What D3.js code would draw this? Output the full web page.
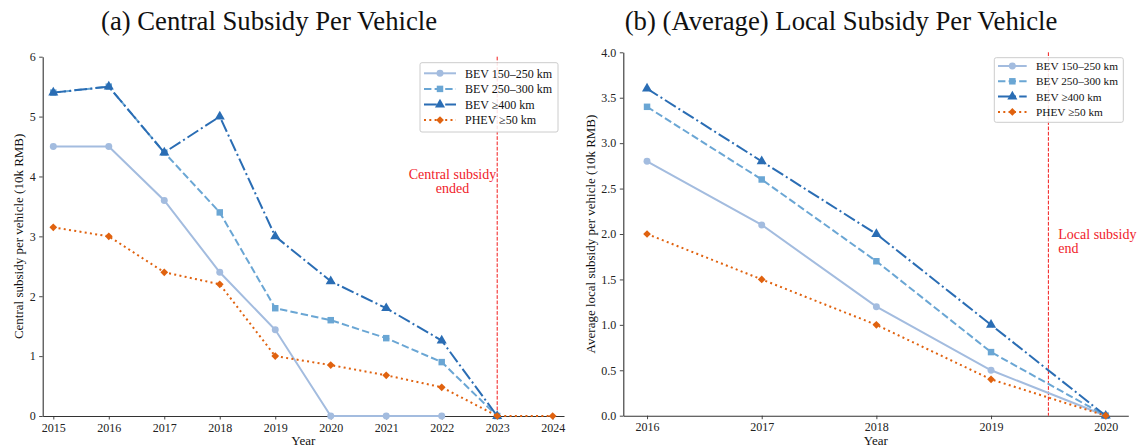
<!DOCTYPE html>
<html>
<head>
<meta charset="utf-8">
<script src="https://cdn.jsdelivr.net/npm/d3@7"></script>
<style>
  html, body { margin: 0; padding: 0; background: #fff; }
  svg { display: block; font-family: "Liberation Serif", "DejaVu Serif", serif; }
</style>
</head>
<body>
<svg id="chart" width="1139" height="448"></svg>
<script>
// ---- Data (10k RMB per vehicle) ----
const centralYears = [2015, 2016, 2017, 2018, 2019, 2020, 2021, 2022, 2023, 2024];
const centralBev150 = [4.5, 4.5, 3.6, 2.4, 1.44, 0, 0, 0, null, null];
const centralBev250 = [5.4, 5.5, 4.4, 3.4, 1.8, 1.6, 1.3, 0.9, 0, null];
const centralBev400 = [5.4, 5.5, 4.4, 5.0, 3.0, 2.25, 1.8, 1.26, 0, null];
const centralPhev   = [3.15, 3.0, 2.4, 2.2, 1.0, 0.85, 0.68, 0.48, 0, 0];

const localYears = [2016, 2017, 2018, 2019, 2020];
const localBev150 = [2.8, 2.1, 1.2, 0.5, 0];
const localBev250 = [3.4, 2.6, 1.7, 0.7, 0];
const localBev400 = [3.6, 2.8, 2.0, 1.0, 0];
const localPhev   = [2.0, 1.5, 1.0, 0.4, 0];

const seriesNames = ["BEV 150\u2013250 km", "BEV 250\u2013300 km", "BEV \u2265400 km", "PHEV \u226550 km"];
const centralTicksY = [0, 1, 2, 3, 4, 5, 6];
const localTicksY = [0, 0.5, 1.0, 1.5, 2.0, 2.5, 3.0, 3.5, 4.0];
const centralEndYear = 2023;
const localEndYear = 2019.5;

// ---- Series styling ----
const styles = [
  { color: "#a3bcdf", dash: null,               marker: "circle" },
  { color: "#6aa6d4", dash: "7.4,3.2",          marker: "square" },
  { color: "#2a6db4", dash: "12.8,3.2,2,3.2",   marker: "triangle" },
  { color: "#e0620f", dash: "2,3.3",            marker: "diamond" }
];
const markerSym = {
  circle: { path: d3.symbol().type(d3.symbolCircle).size(38)(), rot: 0 },
  square: { path: d3.symbol().type(d3.symbolSquare).size(42)(), rot: 0 },
  triangle: { path: d3.symbol().type(d3.symbolTriangle).size(44)(), rot: 0 },
  // a square turned 45 degrees
  diamond: { path: d3.symbol().type(d3.symbolSquare).size(30)(), rot: 45 }
};

const svg = d3.select("#chart");
const FONT = '"Liberation Serif", "DejaVu Serif", serif';

function drawPanel(cfg) {
  const x = d3.scaleLinear().domain(cfg.xDomain).range(cfg.xRange);
  const y = d3.scaleLinear().domain(cfg.yDomain).range(cfg.yRange);
  const g = svg.append("g");

  // axes
  const xAxis = d3.axisBottom(x).tickValues(cfg.years).tickFormat(d3.format("d"))
    .tickSize(3.5).tickPadding(3.5).tickSizeOuter(0);
  const yAxis = d3.axisLeft(y).tickValues(cfg.yTicks).tickFormat(cfg.yFormat)
    .tickSize(3.5).tickPadding(3.5).tickSizeOuter(0);

  const gx = g.append("g").attr("transform", `translate(0,${cfg.yRange[0]})`).call(xAxis);
  const gy = g.append("g").attr("transform", `translate(${cfg.xRange[0]},0)`).call(yAxis);
  [gx, gy].forEach(a => {
    a.selectAll("text").attr("font-family", FONT).attr("font-size", cfg.tickFont).attr("fill", "#222");
    a.selectAll("line").attr("stroke", "#333").attr("stroke-width", 0.9);
    a.select(".domain").attr("stroke", "#333").attr("stroke-width", 1.1);
  });

  // end-of-subsidy marker line
  g.append("line")
    .attr("x1", x(cfg.endYear)).attr("x2", x(cfg.endYear))
    .attr("y1", cfg.yRange[1]).attr("y2", cfg.yRange[0])
    .attr("stroke", "#f21b1b").attr("stroke-width", 1).attr("stroke-dasharray", "3.7,1.6");

  const note = g.append("text")
    .attr("font-family", FONT).attr("font-size", 14).attr("fill", "#f0222a")
    .attr("text-anchor", cfg.noteAnchor);
  cfg.noteLines.forEach((t, i) => {
    note.append("tspan").attr("x", cfg.noteX).attr("y", cfg.noteY + i * 14.3).text(t);
  });

  // series
  cfg.series.forEach((vals, si) => {
    const st = styles[si];
    const m = markerSym[st.marker];
    const pts = cfg.years.map((yr, i) => ({ yr, v: vals[i] })).filter(p => p.v !== null);
    const line = d3.line().x(p => x(p.yr)).y(p => y(p.v));
    g.append("path").datum(pts)
      .attr("d", line).attr("fill", "none")
      .attr("stroke", st.color).attr("stroke-width", 2)
      .attr("stroke-dasharray", st.dash);
    g.selectAll(null).data(pts).enter().append("path")
      .attr("d", m.path)
      .attr("transform", p => `translate(${x(p.yr)},${y(p.v)}) rotate(${m.rot})`)
      .attr("fill", st.color);
  });

  // axis titles
  g.append("text")
    .attr("x", (cfg.xRange[0] + cfg.xRange[1]) / 2).attr("y", 445)
    .attr("text-anchor", "middle").attr("font-family", FONT).attr("font-size", 13)
    .attr("fill", "#111").text("Year");
  g.append("text")
    .attr("transform", `translate(${cfg.yLabelX},${(cfg.yRange[0] + cfg.yRange[1]) / 2}) rotate(-90)`)
    .attr("text-anchor", "middle").attr("font-family", FONT).attr("font-size", 13)
    .attr("fill", "#111").text(cfg.yLabel);

  // title
  g.append("text")
    .attr("x", cfg.titleX).attr("y", 30)
    .attr("text-anchor", "middle").attr("font-family", FONT).attr("font-size", 26.7)
    .attr("fill", "#111").text(cfg.title);

  // legend
  const L = cfg.legend;
  const lg = g.append("g");
  lg.append("rect")
    .attr("x", L.x).attr("y", L.y).attr("width", L.w).attr("height", L.h)
    .attr("rx", 2).attr("fill", "#fff").attr("fill-opacity", 0.85)
    .attr("stroke", "#cccccc").attr("stroke-width", 1);
  seriesNames.forEach((name, si) => {
    const st = styles[si];
    const m = markerSym[st.marker];
    const cy = L.y + L.row0 + si * L.rowGap;
    lg.append("line")
      .attr("x1", L.hx0).attr("x2", L.hx1).attr("y1", cy).attr("y2", cy)
      .attr("stroke", st.color).attr("stroke-width", 2)
      .attr("stroke-dasharray", st.dash);
    lg.append("path")
      .attr("d", m.path)
      .attr("transform", `translate(${(L.hx0 + L.hx1) / 2},${cy}) rotate(${m.rot})`)
      .attr("fill", st.color);
    lg.append("text")
      .attr("x", L.tx).attr("y", cy).attr("dy", "0.35em")
      .attr("font-family", FONT).attr("font-size", L.font).attr("fill", "#111")
      .text(name);
  });
}

drawPanel({
  years: centralYears,
  series: [centralBev150, centralBev250, centralBev400, centralPhev],
  xDomain: [2014.809, 2024.204], xRange: [42.7, 564],
  yDomain: [0, 6], yRange: [416, 56.7],
  yTicks: centralTicksY, yFormat: d3.format("d"),
  tickFont: 12,
  endYear: centralEndYear,
  noteLines: ["Central subsidy", "ended"], noteX: 452.5, noteY: 178.5, noteAnchor: "middle",
  yLabel: "Central subsidy per vehicle (10k RMB)", yLabelX: 22.5,
  title: "(a) Central Subsidy Per Vehicle", titleX: 269,
  legend: { x: 420, y: 62.7, w: 138, h: 69.3, row0: 10.6, rowGap: 15.6,
            hx0: 424, hx1: 456, tx: 465, font: 12 }
});

drawPanel({
  years: localYears,
  series: [localBev150, localBev250, localBev400, localPhev],
  xDomain: [2015.793, 2020.197], xRange: [623.3, 1128.3],
  yDomain: [0, 4], yRange: [415.7, 52.3],
  yTicks: localTicksY, yFormat: d3.format(".1f"),
  tickFont: 12,
  endYear: localEndYear,
  noteLines: ["Local subsidy", "end"], noteX: 1058.3, noteY: 239, noteAnchor: "start",
  yLabel: "Average local subsidy per vehicle (10k RMB)", yLabelX: 595,
  title: "(b) (Average) Local Subsidy Per Vehicle", titleX: 841,
  legend: { x: 994.3, y: 57.7, w: 129, h: 64.6, row0: 8.3, rowGap: 15.3,
            hx0: 998, hx1: 1026.7, tx: 1036, font: 11.3 }
});
</script>
</body>
</html>
